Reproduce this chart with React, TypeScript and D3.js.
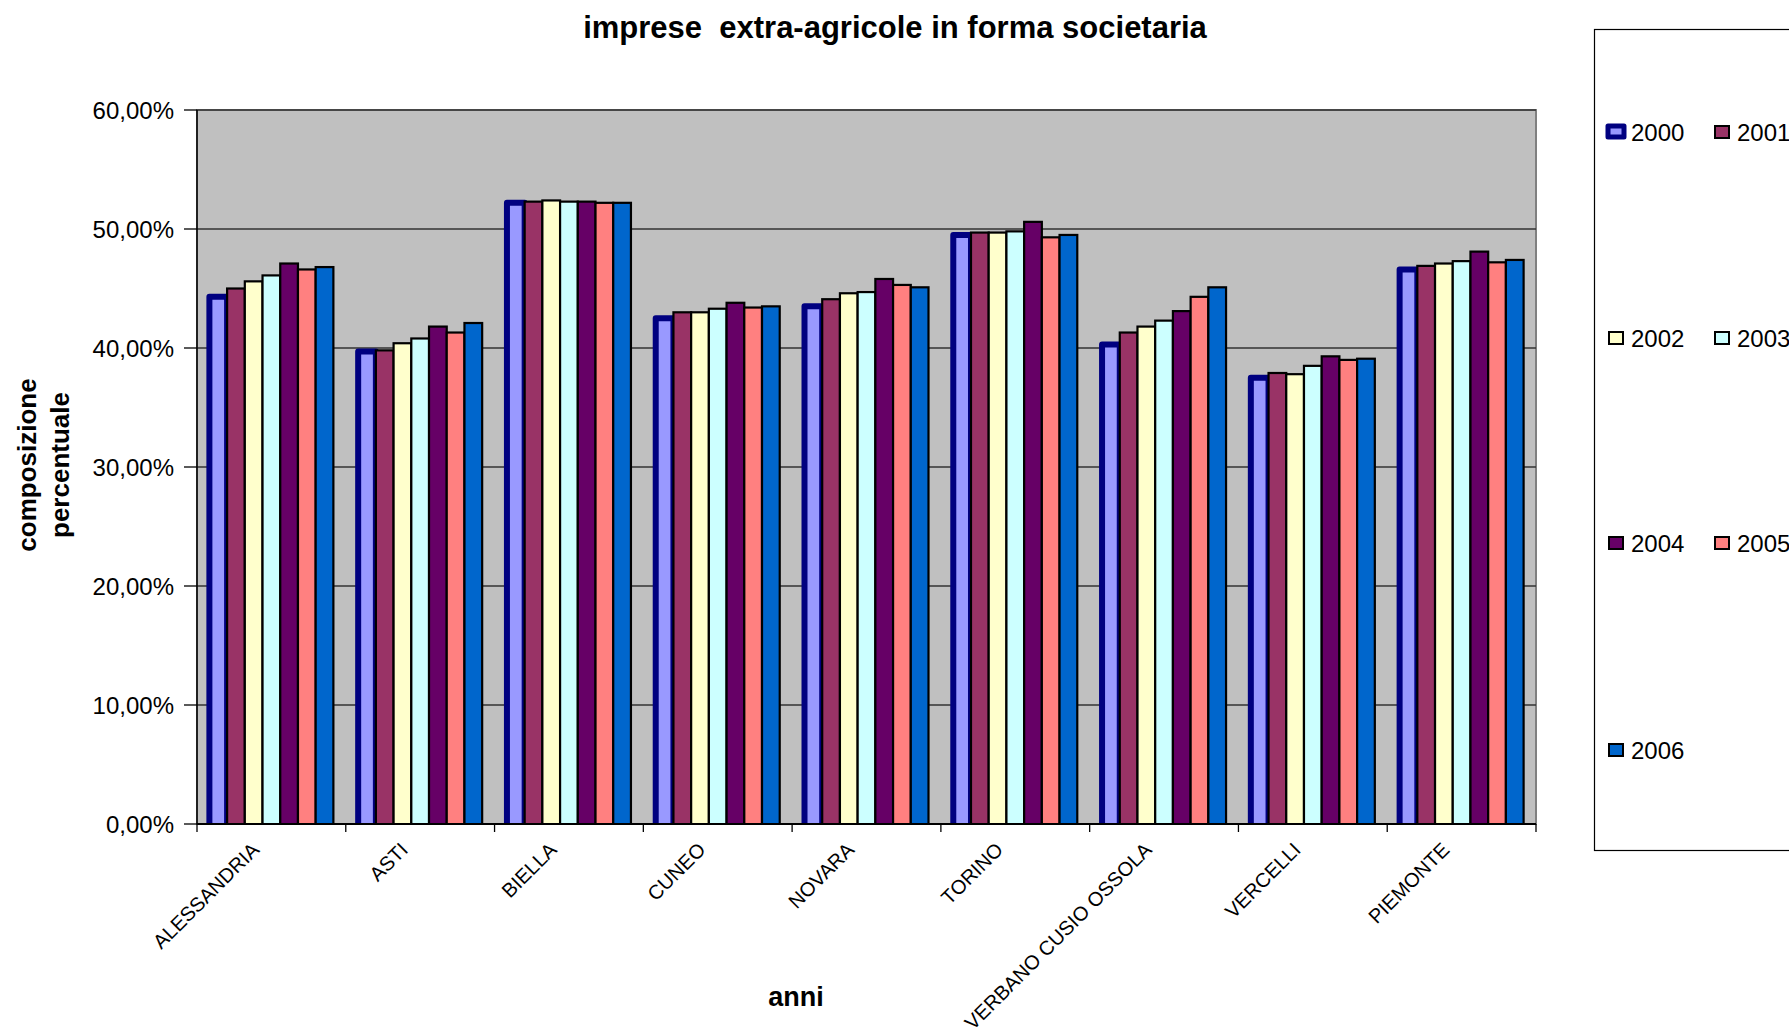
import React from "react";
import * as d3 from "d3";

// Province / region categories on the x axis
const categories = [
  "ALESSANDRIA",
  "ASTI",
  "BIELLA",
  "CUNEO",
  "NOVARA",
  "TORINO",
  "VERBANO CUSIO OSSOLA",
  "VERCELLI",
  "PIEMONTE",
];

const years = ["2000", "2001", "2002", "2003", "2004", "2005", "2006"];

// Share of companies (percent) per year, one value per category
const v2000 = [44.3, 39.7, 52.2, 42.5, 43.5, 49.5, 40.3, 37.5, 46.6];
const v2001 = [45.0, 39.8, 52.3, 43.0, 44.1, 49.7, 41.3, 37.9, 46.9];
const v2002 = [45.6, 40.4, 52.4, 43.0, 44.6, 49.7, 41.8, 37.8, 47.1];
const v2003 = [46.1, 40.8, 52.3, 43.3, 44.7, 49.8, 42.3, 38.5, 47.3];
const v2004 = [47.1, 41.8, 52.3, 43.8, 45.8, 50.6, 43.1, 39.3, 48.1];
const v2005 = [46.6, 41.3, 52.2, 43.4, 45.3, 49.3, 44.3, 39.0, 47.2];
const v2006 = [46.8, 42.1, 52.2, 43.5, 45.1, 49.5, 45.1, 39.1, 47.4];

const seriesValues = [v2000, v2001, v2002, v2003, v2004, v2005, v2006];

const yTicks = [0, 0.1, 0.2, 0.3, 0.4, 0.5, 0.6];

const fills = ["#9999FF", "#993366", "#FFFFCC", "#CCFFFF", "#660066", "#FF8080", "#0066CC"];

const W = 1789;
const H = 1027;
const plot = { left: 197, right: 1536, top: 110, bottom: 824 };
const FONT = "'Liberation Sans', Arial, sans-serif";

const itLocale = d3.formatLocale({
  decimal: ",",
  thousands: ".",
  grouping: [3],
  currency: ["", " €"],
});
const pct = itLocale.format(".2%");

export default function App() {
  const x0 = d3.scaleBand<string>().domain(categories).range([plot.left, plot.right]).padding(0);
  const groupWidth = 124;
  const groupOffset = (x0.bandwidth() - groupWidth) / 2;
  const x1 = d3.scaleBand<string>().domain(years).range([0, groupWidth]).padding(0);
  const y = d3.scaleLinear().domain([0, 0.6]).range([plot.bottom, plot.top]);

  const legendRows = [
    { items: [0, 1], cy: 132 },
    { items: [2, 3], cy: 338 },
    { items: [4, 5], cy: 543 },
    { items: [6], cy: 750 },
  ];
  const legendCols = [1616, 1722];

  return (
    <svg
      width={W}
      height={H}
      style={{ position: "absolute", left: 0, top: 0, background: "#fff" }}
      fontFamily={FONT}
    >
      <defs>
        <clipPath id="plotClip">
          <rect x={plot.left} y={plot.top - 20} width={plot.right - plot.left} height={plot.bottom - plot.top + 20} />
        </clipPath>
      </defs>

      {/* title */}
      <text x={895} y={38} textAnchor="middle" fontSize={31} fontWeight="bold" fill="#000">
        {"imprese\u00a0\u00a0extra-agricole in forma societaria"}
      </text>

      {/* plot background */}
      <rect
        x={plot.left}
        y={plot.top}
        width={plot.right - plot.left}
        height={plot.bottom - plot.top}
        fill="#C0C0C0"
        stroke="#808080"
        strokeWidth={2}
      />

      {/* gridlines */}
      {yTicks.slice(1).map((t) => (
        <line key={t} x1={plot.left} x2={plot.right} y1={y(t)} y2={y(t)} stroke="#333" strokeWidth={1.3} />
      ))}

      {/* bars */}
      <g clipPath="url(#plotClip)">
        {seriesValues.map((vals, si) =>
          vals.map((v, ci) => {
            const xv = x0(categories[ci])! + groupOffset + x1(years[si])!;
            const yv = y(v / 100);
            const first = si === 0;
            return (
              <rect
                key={`${si}-${ci}`}
                x={xv}
                y={yv}
                width={x1.bandwidth()}
                height={plot.bottom - yv + 6}
                fill={fills[si]}
                stroke={first ? "#000080" : "#000"}
                strokeWidth={first ? 6 : 2.2}
                strokeLinejoin={first ? "round" : "miter"}
              />
            );
          })
        )}
      </g>

      {/* y axis */}
      <line x1={plot.left} x2={plot.left} y1={plot.top} y2={plot.bottom} stroke="#000" strokeWidth={1.5} />
      {yTicks.map((t) => (
        <g key={t}>
          <line x1={plot.left - 13} x2={plot.left} y1={y(t)} y2={y(t)} stroke="#000" strokeWidth={1.3} />
          <text x={174} y={y(t)} dy="0.36em" textAnchor="end" fontSize={24} fill="#000">
            {pct(t)}
          </text>
        </g>
      ))}

      {/* x axis */}
      <line x1={plot.left} x2={plot.right} y1={plot.bottom} y2={plot.bottom} stroke="#000" strokeWidth={1.8} />
      {categories.map((c) => (
        <line
          key={`tick-${c}`}
          x1={x0(c)!}
          x2={x0(c)!}
          y1={plot.bottom}
          y2={plot.bottom + 8}
          stroke="#000"
          strokeWidth={1.3}
        />
      ))}
      <line x1={plot.right} x2={plot.right} y1={plot.bottom} y2={plot.bottom + 8} stroke="#000" strokeWidth={1.3} />
      {categories.map((c) => {
        const cx = x0(c)! + x0.bandwidth() / 2 - 11;
        const cy = 851;
        return (
          <text
            key={`lab-${c}`}
            x={cx}
            y={cy}
            transform={`rotate(-45 ${cx} ${cy})`}
            textAnchor="end"
            fontSize={20}
            fill="#000"
          >
            {c}
          </text>
        );
      })}

      {/* axis titles */}
      <text x={796} y={1006} textAnchor="middle" fontSize={27} fontWeight="bold" fill="#000">
        anni
      </text>
      <g transform="translate(0,465)">
        <text x={0} y={0} transform="translate(36,0) rotate(-90)" textAnchor="middle" fontSize={26} fontWeight="bold">
          composizione
        </text>
        <text x={0} y={0} transform="translate(69,0) rotate(-90)" textAnchor="middle" fontSize={26} fontWeight="bold">
          percentuale
        </text>
      </g>

      {/* legend */}
      <rect x={1594.5} y={29.5} width={260} height={821} fill="#fff" stroke="#000" strokeWidth={1.2} />
      {legendRows.map((row) =>
        row.items.map((si, k) => {
          const sx = legendCols[k];
          const first = si === 0;
          return (
            <g key={`leg-${si}`}>
              <rect
                x={first ? sx - 8 : sx - 7}
                y={row.cy - 6}
                width={first ? 16 : 14}
                height={first ? 11 : 12}
                fill={fills[si]}
                stroke={first ? "#000080" : "#000"}
                strokeWidth={first ? 5 : 2}
                strokeLinejoin={first ? "round" : "miter"}
              />
              <text x={sx + 15} y={row.cy} dy="0.36em" fontSize={24} fill="#000">
                {years[si]}
              </text>
            </g>
          );
        })
      )}
    </svg>
  );
}
